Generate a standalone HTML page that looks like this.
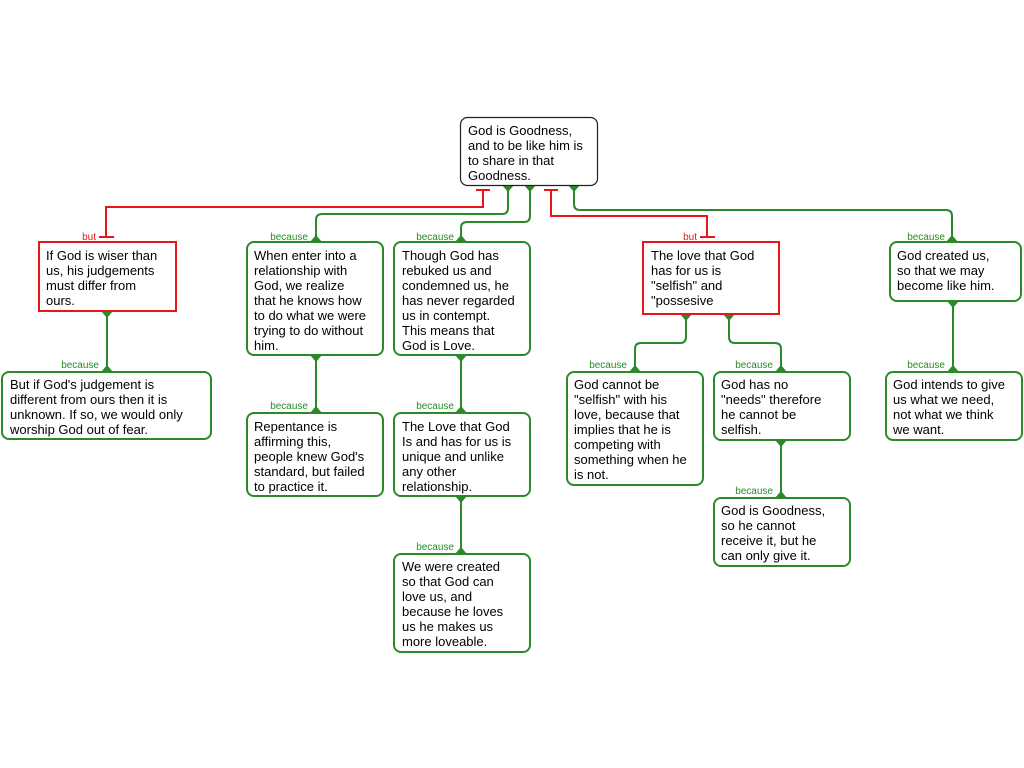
<!DOCTYPE html>
<html><head><meta charset="utf-8"><style>
body{margin:0;background:#fff;}
svg{display:block;font-family:"Liberation Sans",sans-serif;}
.t{font-size:13px;fill:#000;}
.g{fill:none;stroke:#2a8a2a;stroke-width:2;}
.r{fill:none;stroke:#e8161b;stroke-width:2;}
.lg{font-size:10px;fill:#2a8a2a;text-anchor:end;}
.lr{font-size:10px;fill:#e8161b;text-anchor:end;}
</style></head><body>
<svg width="1024" height="768" viewBox="0 0 1024 768">
<g class="g">
<path d="M508 185 V208 Q508 214 502 214 H322 Q316 214 316 220 V242"/>
<path d="M530 185 V216 Q530 222 524 222 H467 Q461 222 461 228 V242"/>
<path d="M574 185 V204 Q574 210 580 210 H946 Q952 210 952 216 V242"/>
<path d="M107 311 V372"/>
<path d="M316 355 V413"/>
<path d="M461 355 V413"/>
<path d="M461 496 V554"/>
<path d="M686 314 V337 Q686 343 680 343 H641 Q635 343 635 349 V372"/>
<path d="M729 314 V337 Q729 343 735 343 H775 Q781 343 781 349 V372"/>
<path d="M781 440 V498"/>
<path d="M953 301 V372"/>
</g>
<g fill="#2a8a2a">
<path d="M502 185 L514 185 L508 192Z"/><path d="M524 185 L536 185 L530 192Z"/><path d="M568 185 L580 185 L574 192Z"/>
<path d="M310 242 L322 242 L316 235Z"/><path d="M455 242 L467 242 L461 235Z"/><path d="M946 242 L958 242 L952 235Z"/>
<path d="M101 311 L113 311 L107 318Z"/><path d="M101 372 L113 372 L107 365Z"/>
<path d="M310 355 L322 355 L316 362Z"/><path d="M310 413 L322 413 L316 406Z"/>
<path d="M455 355 L467 355 L461 362Z"/><path d="M455 413 L467 413 L461 406Z"/>
<path d="M455 496 L467 496 L461 503Z"/><path d="M455 554 L467 554 L461 547Z"/>
<path d="M680 314 L692 314 L686 321Z"/><path d="M723 314 L735 314 L729 321Z"/>
<path d="M629 372 L641 372 L635 365Z"/><path d="M775 372 L787 372 L781 365Z"/>
<path d="M775 440 L787 440 L781 447Z"/><path d="M775 498 L787 498 L781 491Z"/>
<path d="M947 301 L959 301 L953 308Z"/><path d="M947 372 L959 372 L953 365Z"/>
</g>
<g class="r">
<path d="M476 190 H490 M483 190 V207 H106 V237 M99 237 H114"/>
<path d="M544 190 H558 M551 190 V216 H707 V237 M700 237 H715"/>
</g>
<text class="lr" x="96" y="240">but</text>
<text class="lr" x="697" y="240">but</text>
<text class="lg" x="308" y="240">because</text>
<text class="lg" x="454" y="240">because</text>
<text class="lg" x="945" y="240">because</text>
<text class="lg" x="99" y="368">because</text>
<text class="lg" x="627" y="368">because</text>
<text class="lg" x="773" y="368">because</text>
<text class="lg" x="945" y="368">because</text>
<text class="lg" x="308" y="409">because</text>
<text class="lg" x="454" y="409">because</text>
<text class="lg" x="454" y="550">because</text>
<text class="lg" x="773" y="494">because</text>
<rect x="460.5" y="117.5" width="137" height="68" rx="7" fill="#fff" stroke="#222" stroke-width="1.2"/>
<rect x="39" y="242" width="137" height="69" fill="#fff" stroke="#e8161b" stroke-width="2"/>
<rect x="643" y="242" width="136" height="72" fill="#fff" stroke="#e8161b" stroke-width="2"/>
<g fill="#fff" stroke="#2a8a2a" stroke-width="2">
<rect x="2" y="372" width="209" height="67" rx="7"/>
<rect x="247" y="242" width="136" height="113" rx="7"/>
<rect x="247" y="413" width="136" height="83" rx="7"/>
<rect x="394" y="242" width="136" height="113" rx="7"/>
<rect x="394" y="413" width="136" height="83" rx="7"/>
<rect x="394" y="554" width="136" height="98" rx="7"/>
<rect x="567" y="372" width="136" height="113" rx="7"/>
<rect x="714" y="372" width="136" height="68" rx="7"/>
<rect x="714" y="498" width="136" height="68" rx="7"/>
<rect x="890" y="242" width="131" height="59" rx="7"/>
<rect x="886" y="372" width="136" height="68" rx="7"/>
</g>
<g class="t">
<text x="468" y="135"><tspan x="468">God is Goodness,</tspan><tspan x="468" dy="15">and to be like him is</tspan><tspan x="468" dy="15">to share in that</tspan><tspan x="468" dy="15">Goodness.</tspan></text>
<text y="260"><tspan x="46">If God is wiser than</tspan><tspan x="46" dy="15">us, his judgements</tspan><tspan x="46" dy="15">must differ from</tspan><tspan x="46" dy="15">ours.</tspan></text>
<text y="389"><tspan x="10">But if God's judgement is</tspan><tspan x="10" dy="15">different from ours then it is</tspan><tspan x="10" dy="15">unknown. If so, we would only</tspan><tspan x="10" dy="15">worship God out of fear.</tspan></text>
<text y="260"><tspan x="254">When enter into a</tspan><tspan x="254" dy="15">relationship with</tspan><tspan x="254" dy="15">God, we realize</tspan><tspan x="254" dy="15">that he knows how</tspan><tspan x="254" dy="15">to do what we were</tspan><tspan x="254" dy="15">trying to do without</tspan><tspan x="254" dy="15">him.</tspan></text>
<text y="431"><tspan x="254">Repentance is</tspan><tspan x="254" dy="15">affirming this,</tspan><tspan x="254" dy="15">people knew God's</tspan><tspan x="254" dy="15">standard, but failed</tspan><tspan x="254" dy="15">to practice it.</tspan></text>
<text y="260"><tspan x="402">Though God has</tspan><tspan x="402" dy="15">rebuked us and</tspan><tspan x="402" dy="15">condemned us, he</tspan><tspan x="402" dy="15">has never regarded</tspan><tspan x="402" dy="15">us in contempt.</tspan><tspan x="402" dy="15">This means that</tspan><tspan x="402" dy="15">God is Love.</tspan></text>
<text y="431"><tspan x="402">The Love that God</tspan><tspan x="402" dy="15">Is and has for us is</tspan><tspan x="402" dy="15">unique and unlike</tspan><tspan x="402" dy="15">any other</tspan><tspan x="402" dy="15">relationship.</tspan></text>
<text y="571"><tspan x="402">We were created</tspan><tspan x="402" dy="15">so that God can</tspan><tspan x="402" dy="15">love us, and</tspan><tspan x="402" dy="15">because he loves</tspan><tspan x="402" dy="15">us he makes us</tspan><tspan x="402" dy="15">more loveable.</tspan></text>
<text y="260"><tspan x="651">The love that God</tspan><tspan x="651" dy="15">has for us is</tspan><tspan x="651" dy="15">"selfish" and</tspan><tspan x="651" dy="15">"possesive</tspan></text>
<text y="389"><tspan x="574">God cannot be</tspan><tspan x="574" dy="15">"selfish" with his</tspan><tspan x="574" dy="15">love, because that</tspan><tspan x="574" dy="15">implies that he is</tspan><tspan x="574" dy="15">competing with</tspan><tspan x="574" dy="15">something when he</tspan><tspan x="574" dy="15">is not.</tspan></text>
<text y="389"><tspan x="721">God has no</tspan><tspan x="721" dy="15">"needs" therefore</tspan><tspan x="721" dy="15">he cannot be</tspan><tspan x="721" dy="15">selfish.</tspan></text>
<text y="515"><tspan x="721">God is Goodness,</tspan><tspan x="721" dy="15">so he cannot</tspan><tspan x="721" dy="15">receive it, but he</tspan><tspan x="721" dy="15">can only give it.</tspan></text>
<text y="260"><tspan x="897">God created us,</tspan><tspan x="897" dy="15">so that we may</tspan><tspan x="897" dy="15">become like him.</tspan></text>
<text y="389"><tspan x="893">God intends to give</tspan><tspan x="893" dy="15">us what we need,</tspan><tspan x="893" dy="15">not what we think</tspan><tspan x="893" dy="15">we want.</tspan></text>
</g>
</svg>
</body></html>
